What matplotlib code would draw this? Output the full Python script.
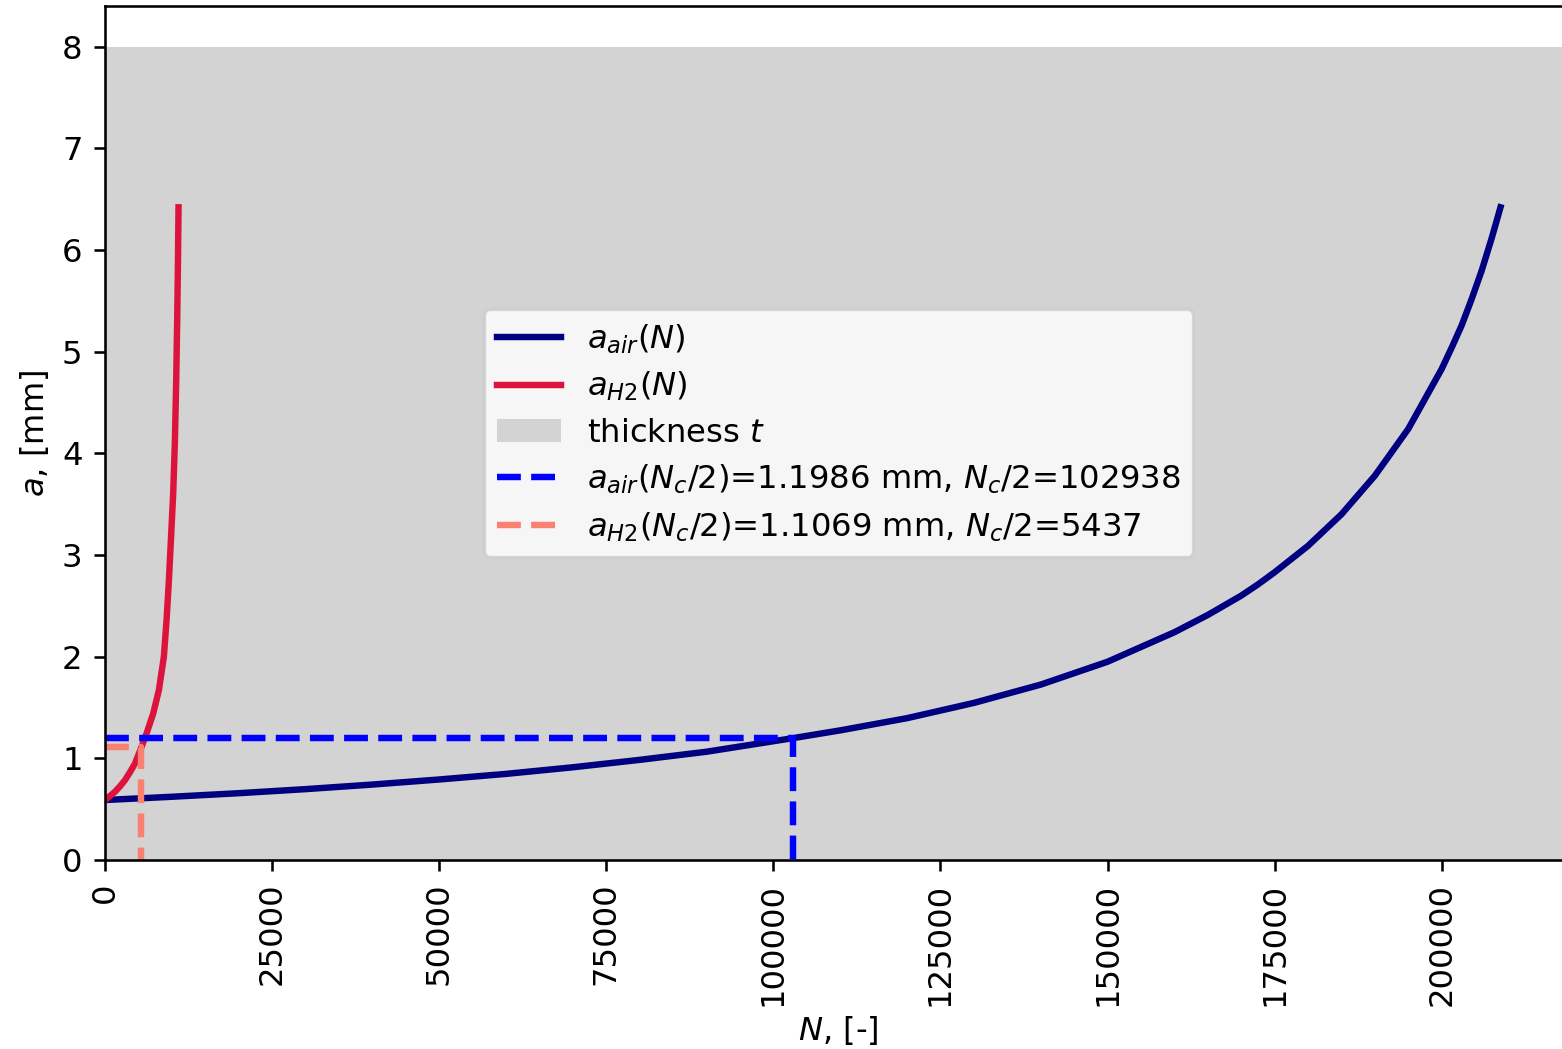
import matplotlib
matplotlib.use("Agg")
import matplotlib.pyplot as plt

# ---- data ----
N_air = [0, 10000, 20000, 30000, 40000, 50000, 60000, 70000, 80000, 90000,
         102938, 110000, 120000, 130000, 140000, 150000, 160000, 165000, 170000,
         172500, 175000, 180000, 185000, 190000, 195000, 200000, 201500, 203000,
         204500, 206000, 207500, 208800]
a_air = [0.59, 0.622, 0.657, 0.697, 0.742, 0.792, 0.847, 0.912, 0.985, 1.065,
         1.1986, 1.275, 1.395, 1.545, 1.725, 1.95, 2.24, 2.41, 2.60,
         2.71, 2.83, 3.09, 3.40, 3.78, 4.24, 4.83, 5.04, 5.26,
         5.52, 5.80, 6.12, 6.42]

N_h2 = [0, 750, 1500, 2250, 3000, 3750, 4500, 5437, 6225, 7220, 8066, 8810,
        9210, 9560, 9900, 10200, 10450, 10650, 10800, 10920, 11000]
a_h2 = [0.59, 0.63, 0.672, 0.725, 0.787, 0.865, 0.951, 1.1069, 1.246, 1.442,
        1.672, 2.00, 2.36, 2.75, 3.2, 3.6, 4.1, 4.7, 5.3, 5.9, 6.42]

thickness = 8.0
Nc2_air, ac_air = 102938, 1.1986
Nc2_h2, ac_h2 = 5437, 1.1069

x_ticks = [0, 25000, 50000, 75000, 100000, 125000, 150000, 175000, 200000]
y_ticks = [0, 1, 2, 3, 4, 5, 6, 7, 8]

# ---- figure ----
W, H, DPI = 1562, 1049, 232
fig = plt.figure(figsize=(W / DPI, H / DPI), dpi=DPI)
ax = fig.add_axes([105 / W, 1 - 860 / H, (1572 - 105) / W, 854 / H])

ax.plot(N_air, a_air, color="navy", lw=2, label=r"$a_{air}(N)$")
ax.plot(N_h2, a_h2, color="crimson", lw=2, label=r"$a_{H2}(N)$")
ax.axhspan(0, thickness, color="lightgray", lw=0, label=r"thickness $t$")
ax.plot([0, Nc2_air, Nc2_air], [ac_air, ac_air, 0], "--", color="blue", lw=2,
        label=r"$a_{air}(N_c/2)$=%.4f mm, $N_c/2$=%d" % (ac_air, Nc2_air))
ax.plot([0, Nc2_h2, Nc2_h2], [ac_h2, ac_h2, 0], "--", color="salmon", lw=2,
        label=r"$a_{H2}(N_c/2)$=%.4f mm, $N_c/2$=%d" % (ac_h2, Nc2_h2))

ax.set_xlim(0, 219500)
ax.set_ylim(0, 8.4)
ax.set_xticks(x_ticks)
ax.set_xticklabels([str(v) for v in x_ticks], rotation=90)
ax.set_yticks(y_ticks)
ax.set_xlabel(r"$N$, [-]", labelpad=2.5)
ax.set_ylabel(r"$a$, [mm]", labelpad=3.5)
ax.legend(loc="center", labelspacing=0.44)

fig.savefig("out.png", dpi=DPI)
